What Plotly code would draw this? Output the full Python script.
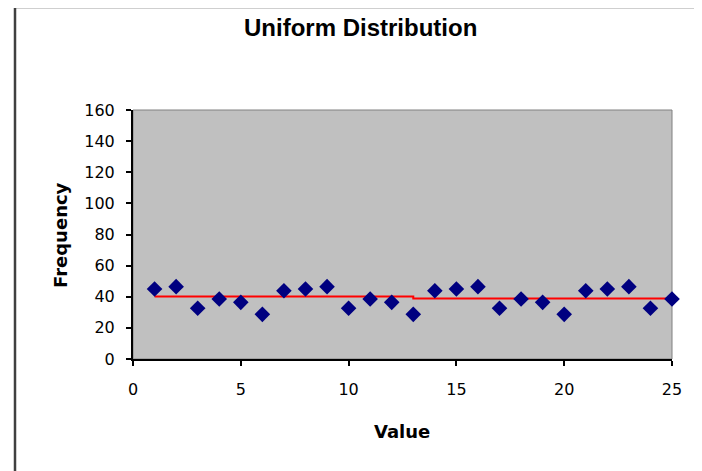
import plotly.graph_objects as go

values = list(range(1, 26))
frequency = [45, 46.5, 32.6, 38.6, 36.4, 28.7, 43.9,
             45, 46.5, 32.6, 38.6, 36.4, 28.7, 43.9,
             45, 46.5, 32.6, 38.6, 36.4, 28.7, 43.9,
             45, 46.5, 32.6, 38.6]
line_x = [1, 13, 13, 25]
line_y = [40.2, 40.2, 38.9, 38.9]
y_ticks = [0, 20, 40, 60, 80, 100, 120, 140, 160]
x_ticks = [0, 5, 10, 15, 20, 25]

# page body has an 8px margin, so figure coordinates = window coordinates - 8
OFF = 8
W, H = 694, 463
L, R, T, B = 133 - OFF, 672 - OFF, 110 - OFF, 359 - OFF
pw, ph = R - L, B - T


def px(x):
    return (x - OFF - L) / pw


def py(y):
    return (B - (y - OFF)) / ph


fig = go.Figure()
fig.add_trace(go.Scatter(x=line_x, y=line_y, mode="lines",
                         line=dict(color="#FF0000", width=2), showlegend=False,
                         cliponaxis=False))
fig.add_trace(go.Scatter(x=values, y=frequency, mode="markers",
                         marker=dict(symbol="diamond", size=12, color="#000080"),
                         showlegend=False, cliponaxis=False))

fig.update_layout(
    width=W, height=H,
    margin=dict(l=L, r=W - R, t=T, b=H - B),
    paper_bgcolor="white",
    plot_bgcolor="#C0C0C0",
    font=dict(family="DejaVu Sans, sans-serif", size=16, color="black"),
    xaxis=dict(range=[0, 25], tickvals=x_ticks, showgrid=False, zeroline=False,
               showline=True, linecolor="black", linewidth=2,
               ticks="outside", ticklen=5, tickcolor="black", tickwidth=1.5,
               ticklabelstandoff=10, tickfont=dict(size=16)),
    yaxis=dict(range=[0, 160], tickvals=y_ticks, showgrid=False, zeroline=False,
               showline=True, linecolor="black", linewidth=2,
               ticks="outside", ticklen=5, tickcolor="black", tickwidth=1.5,
               ticklabelstandoff=8, tickfont=dict(size=16)),
    shapes=[
        dict(type="rect", xref="paper", yref="paper",
             x0=0, x1=1, y0=0, y1=1, line=dict(color="#808080", width=1), layer="below"),
        dict(type="rect", xref="paper", yref="paper",
             x0=px(15), x1=px(700), y0=py(500), y1=py(7),
             line=dict(color="#404040", width=2.5)),
    ],
    annotations=[
        dict(text="<b>Uniform Distribution</b>", xref="paper", yref="paper",
             x=px(360), y=py(27), showarrow=False,
             font=dict(family="Liberation Sans, Arial, sans-serif", size=24),
             xanchor="center", yanchor="middle"),
        dict(text="<b>Frequency</b>", xref="paper", yref="paper",
             x=px(60), y=py(235), showarrow=False, textangle=-90,
             font=dict(size=18), xanchor="center", yanchor="middle"),
        dict(text="<b>Value</b>", xref="paper", yref="paper",
             x=px(402), y=py(431), showarrow=False,
             font=dict(size=18), xanchor="center", yanchor="middle"),
    ],
)

fig.write_html("out.html")
